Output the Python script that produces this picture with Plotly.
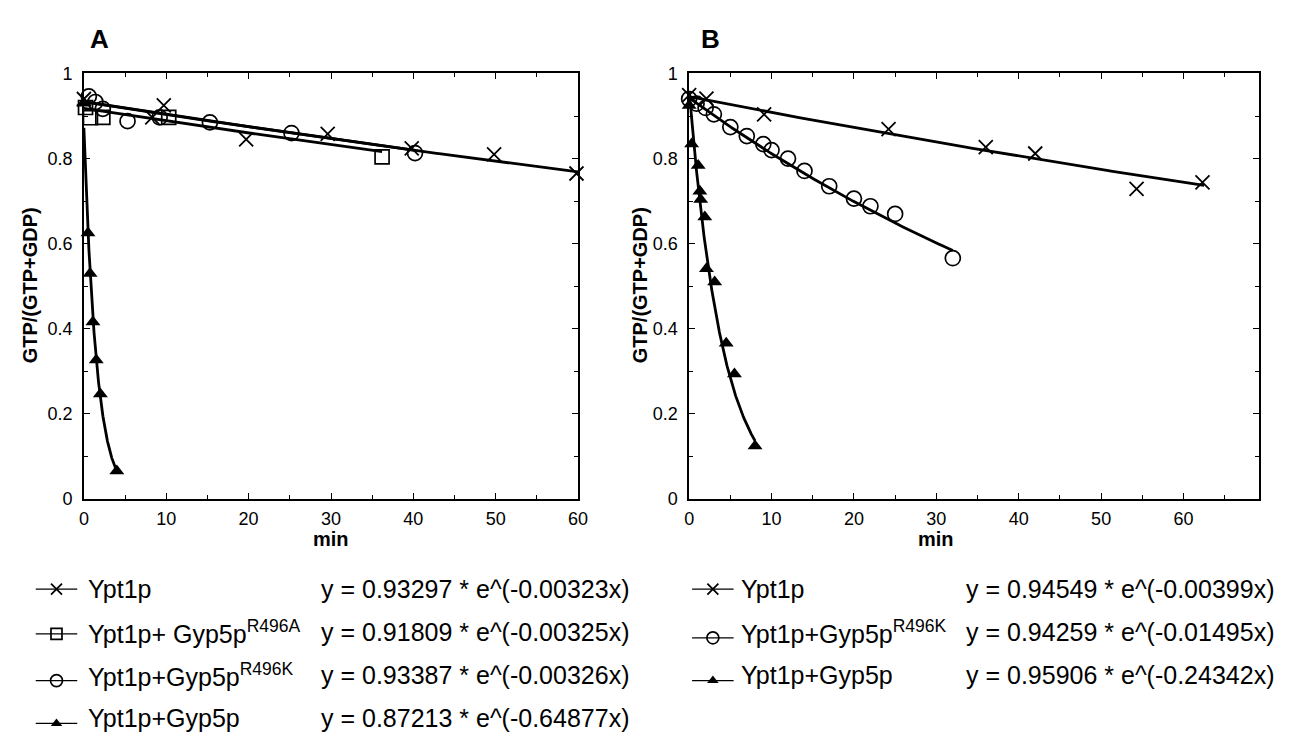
import numpy as np
import plotly.graph_objects as go

# ---------------- data ----------------
# Panel A
a_ypt_x = [0, 8.3, 9.7, 19.7, 29.6, 39.8, 49.8, 59.8]
a_ypt_y = [0.94, 0.897, 0.925, 0.845, 0.858, 0.824, 0.81, 0.765]
a_r496a_x = [0.2, 0.8, 2.3, 10.3, 36.2]
a_r496a_y = [0.92, 0.896, 0.897, 0.897, 0.804]
a_r496k_x = [0.6, 1.4, 2.3, 5.3, 9.2, 15.3, 25.2, 40.2]
a_r496k_y = [0.946, 0.933, 0.917, 0.888, 0.897, 0.885, 0.86, 0.813]
a_gyp_x = [0, 0.5, 0.75, 1.1, 1.5, 2.0, 4.0]
a_gyp_y = [0.93, 0.625, 0.53, 0.416, 0.327, 0.247, 0.066]
# fit parameters (a, k) and fitted x-extent
a_fit_a = [0.93297, 0.91809, 0.93387, 0.87213]
a_fit_k = [0.00323, 0.00325, 0.00326, 0.64877]
a_fit_end = [60, 36.2, 40.2, 4.0]
a_names = ["Ypt1p", "Ypt1p+ Gyp5p<sup>R496A</sup>", "Ypt1p+Gyp5p<sup>R496K</sup>", "Ypt1p+Gyp5p"]

# Panel B
b_ypt_x = [0, 2.1, 9.1, 24.2, 36.0, 42.0, 54.3, 62.3]
b_ypt_y = [0.949, 0.941, 0.904, 0.869, 0.827, 0.812, 0.729, 0.744]
b_r496k_x = [0, 0.9, 2.0, 3.0, 5.0, 7.0, 9.0, 10.0, 12.0, 14.0, 17.0, 20.0, 22.0, 25.0, 32.0]
b_r496k_y = [0.94, 0.929, 0.919, 0.904, 0.874, 0.853, 0.834, 0.82, 0.80, 0.771, 0.735, 0.706, 0.688, 0.67, 0.566]
b_gyp_x = [0, 0.3, 1.1, 1.3, 1.4, 1.9, 2.1, 3.1, 4.5, 5.5, 8.0]
b_gyp_y = [0.925, 0.834, 0.784, 0.723, 0.704, 0.663, 0.541, 0.51, 0.366, 0.294, 0.125]
b_fit_a = [0.94549, 0.94259, 0.95906]
b_fit_k = [0.00399, 0.01495, 0.24342]
b_fit_end = [62.5, 32.0, 8.0]
b_names = ["Ypt1p", "Ypt1p+Gyp5p<sup>R496K</sup>", "Ypt1p+Gyp5p"]

y_ticks = [0, 0.2, 0.4, 0.6, 0.8, 1]
y_labels = ["0", "0.2", "0.4", "0.6", "0.8", "1"]
x_ticks = [0, 10, 20, 30, 40, 50, 60]

# ---------------- figure ----------------
W, H = 1305, 740
FONT = "Arial, Liberation Sans, sans-serif"
fig = go.Figure()

sym_x = dict(symbol="x-thin", size=14, line=dict(width=1.8, color="black"), color="black")
sym_sq = dict(symbol="square-open", size=14, line=dict(width=1.7, color="black"), color="black")
sym_ci = dict(symbol="circle-open", size=15, line=dict(width=1.7, color="black"), color="black")
sym_tr = dict(symbol="triangle-up", size=13, color="black")

def fit_curve(a, k, end):
    xs = np.linspace(0, end, 200)
    return xs, a * np.exp(-k * xs)

# Panel A
a_data = [(a_ypt_x, a_ypt_y), (a_r496a_x, a_r496a_y), (a_r496k_x, a_r496k_y), (a_gyp_x, a_gyp_y)]
a_syms = [sym_x, sym_sq, sym_ci, sym_tr]
for i in range(4):
    fx, fy = fit_curve(a_fit_a[i], a_fit_k[i], a_fit_end[i])
    fig.add_trace(go.Scatter(x=fx, y=fy, mode="lines", line=dict(color="black", width=2.8),
                             xaxis="x", yaxis="y", showlegend=False, hoverinfo="skip"))
for i in range(4):
    fig.add_trace(go.Scatter(x=a_data[i][0], y=a_data[i][1], mode="markers", marker=a_syms[i],
                             xaxis="x", yaxis="y", showlegend=False, cliponaxis=False))

# Panel B
b_data = [(b_ypt_x, b_ypt_y), (b_r496k_x, b_r496k_y), (b_gyp_x, b_gyp_y)]
b_syms = [sym_x, sym_ci, sym_tr]
for i in range(3):
    fx, fy = fit_curve(b_fit_a[i], b_fit_k[i], b_fit_end[i])
    fig.add_trace(go.Scatter(x=fx, y=fy, mode="lines", line=dict(color="black", width=2.8),
                             xaxis="x2", yaxis="y2", showlegend=False, hoverinfo="skip"))
for i in range(3):
    fig.add_trace(go.Scatter(x=b_data[i][0], y=b_data[i][1], mode="markers", marker=b_syms[i],
                             xaxis="x2", yaxis="y2", showlegend=False, cliponaxis=False))

# ---------------- axes ----------------
def px_x(p):
    return p / W

def px_y(p):
    return 1 - p / H

ydom = [px_y(494.5), px_y(57)]
common = dict(showline=True, linecolor="black", linewidth=1.5, mirror="allticks",
              ticks="inside", ticklen=6, tickwidth=1.2, tickcolor="black",
              showgrid=False, zeroline=False,
              tickfont=dict(family=FONT, size=18, color="black"))
minor = dict(ticks="inside", ticklen=4, tickwidth=1.2, tickcolor="black", showgrid=False)

fig.update_layout(
    xaxis=dict(domain=[px_x(71.7), px_x(571.7)], range=[0, 60], tickvals=x_ticks,
               ticklabelstandoff=3, minor=dict(dtick=5, tick0=0, **minor), anchor="y", **common),
    yaxis=dict(domain=ydom, range=[0, 1], tickvals=y_ticks, ticktext=y_labels,
               ticklabelstandoff=6, minor=dict(dtick=0.1, tick0=0, **minor), anchor="x", **common),
    xaxis2=dict(domain=[px_x(684), px_x(1260)], range=[0, 69.1], tickvals=x_ticks,
                ticklabelstandoff=3, minor=dict(tickvals=[5, 15, 25, 35, 45, 55, 65], **minor),
                anchor="y2", **common),
    yaxis2=dict(domain=ydom, range=[0, 1], tickvals=y_ticks, ticktext=y_labels,
                ticklabelstandoff=6, minor=dict(dtick=0.1, tick0=0, **minor), anchor="x2", **common),
    xaxis3=dict(domain=[0, 1], range=[0, W], visible=False, fixedrange=True, anchor="y3"),
    yaxis3=dict(domain=[0, 1], range=[H, 0], visible=False, fixedrange=True, anchor="x3"),
    width=W, height=H, margin=dict(l=0, r=0, t=0, b=0),
    paper_bgcolor="white", plot_bgcolor="rgba(0,0,0,0)", showlegend=False,
    font=dict(family=FONT, color="black"),
)

ann = []
def add_text(x, y, text, size, bold=False, xanchor="left", angle=0):
    ann.append(dict(x=x, y=y, xref="x3", yref="y3", text=f"<b>{text}</b>" if bold else text,
                    showarrow=False, xanchor=xanchor, yanchor="middle", textangle=angle,
                    borderpad=0, font=dict(family=FONT, size=size, color="black")))

# Panel letters and axis titles
add_text(87, 22, "A", 26, bold=True, xanchor="center")
add_text(706, 22, "B", 26, bold=True, xanchor="center")
add_text(321.7, 535, "min", 20, bold=True, xanchor="center")
add_text(934, 535, "min", 20, bold=True, xanchor="center")
add_text(17, 275, "GTP/(GTP+GDP)", 20, bold=True, xanchor="center", angle=-90)
add_text(634, 275, "GTP/(GTP+GDP)", 20, bold=True, xanchor="center", angle=-90)

# Legend blocks
rows = [587, 631, 675, 719]
a_sym_dy = [0, 2, 6, 6]
b_sym_dy = [0, 6, 6]
a_eq = [f"y = {a_fit_a[i]:.5f} * e^(-{a_fit_k[i]:.5f}x)" for i in range(4)]
b_eq = [f"y = {b_fit_a[i]:.5f} * e^(-{b_fit_k[i]:.5f}x)" for i in range(3)]

def legend_symbol(x0, yrow, marker):
    fig.add_trace(go.Scatter(x=[x0, x0 + 42], y=[yrow, yrow], mode="lines",
                             line=dict(color="black", width=1.3), xaxis="x3", yaxis="y3",
                             showlegend=False, hoverinfo="skip"))
    m = dict(marker)
    m["size"] = marker["size"] - 3
    fig.add_trace(go.Scatter(x=[x0 + 21], y=[yrow], mode="markers", marker=m,
                             xaxis="x3", yaxis="y3", showlegend=False, hoverinfo="skip"))

for i in range(4):
    legend_symbol(23, rows[i] + a_sym_dy[i], a_syms[i])
    add_text(75, rows[i], a_names[i], 25)
    add_text(311, rows[i], a_eq[i], 25)
for i in range(3):
    legend_symbol(687, rows[i] + b_sym_dy[i], b_syms[i])
    add_text(735, rows[i], b_names[i], 25)
    add_text(963, rows[i], b_eq[i], 25)

fig.update_layout(annotations=ann)
fig.write_html("out.html")
